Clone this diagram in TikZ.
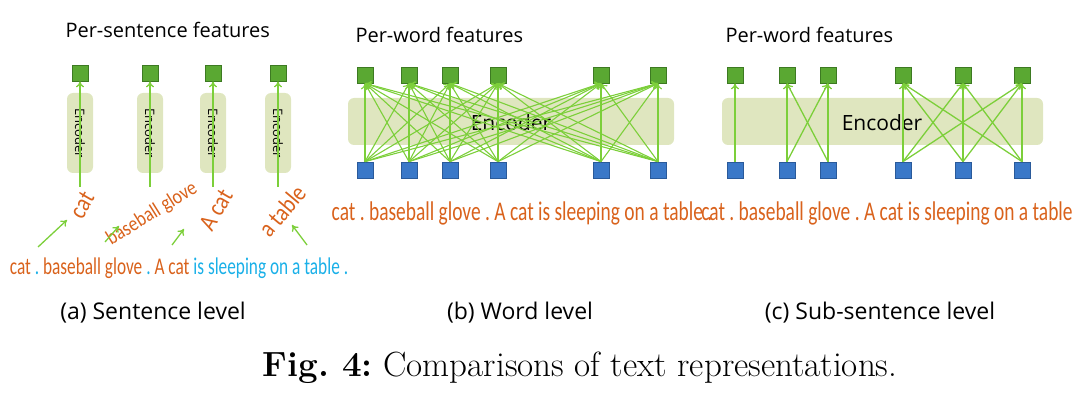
\documentclass[tikz,border=0pt]{standalone}
\usepackage{fontspec}
\setmainfont{Latin Modern Roman}
\newfontfamily\sans{Open Sans}
\newfontfamily\narrow{Carlito}
\usetikzlibrary{arrows.meta}
\definecolor{gsq}{HTML}{5AA832}\definecolor{gsqd}{HTML}{3D7A22}
\definecolor{bsq}{HTML}{3A78C8}\definecolor{bsqd}{HTML}{2A5A9A}
\definecolor{arr}{HTML}{7CCF3A}\definecolor{enc}{HTML}{DFE6BF}
\definecolor{org}{HTML}{D9621C}\definecolor{cya}{HTML}{1AB0E8}
\frenchspacing
\begin{document}
\begin{tikzpicture}[x=1pt,y=-1pt,
  gs/.style={draw=gsqd,fill=gsq,minimum size=16pt,inner sep=0pt,line width=0.8pt},
  bs/.style={draw=bsqd,fill=bsq,minimum size=16pt,inner sep=0pt,line width=0.8pt},
  ar/.style={draw=arr,line width=1.3pt,-{To[length=6pt,width=8pt]}},
  encb/.style={fill=enc,rounded corners=6pt,draw=none},
  ttl/.style={font=\sans\fontsize{20}{22}\selectfont,anchor=west},
  captxt/.style={font=\sans\fontsize{23}{25}\selectfont},
  sent/.style={font=\narrow\fontsize{27}{28}\selectfont,text=org,inner sep=0pt}]
\useasboundingbox (0,0) rectangle (1080,401);
% ---------- (a)
\node[ttl] (ta) at (62,30) {Per-sentence features};
\foreach \i/\x in {1/80,2/150,3/213,4/278}{
  \node[encb,minimum width=26pt,minimum height=80pt] (ea\i) at (\x,133) {};
  \node[rotate=-90,font=\sans\fontsize{13}{14}\selectfont] at (\x,133) {Encoder};
  \node[gs] (ga\i) at (\x,73) {};
  \coordinate (sa\i) at (\x,187);
  \draw[ar] (sa\i) -- (ga\i);
}
\node[sent,rotate=60,font=\narrow\fontsize{25}{26}\selectfont] (w1) at (82,205) {\scalebox{0.85}[1]{cat}};
\node[sent,rotate=32,font=\narrow\fontsize{21}{22}\selectfont] (w2) at (152,214) {\scalebox{0.85}[1]{baseball glove}};
\node[sent,rotate=60,font=\narrow\fontsize{25}{26}\selectfont] (w3) at (216,210) {\scalebox{0.85}[1]{A cat}};
\node[sent,rotate=50,font=\narrow\fontsize{25}{26}\selectfont] (w4) at (282,211) {\scalebox{0.85}[1]{a table}};
\coordinate (p1) at (38,247);\coordinate (q1) at (67,220);
\coordinate (p2) at (105,242);\coordinate (q2) at (119,226);
\coordinate (p3) at (172,245);\coordinate (q3) at (184,229);
\coordinate (p4) at (307,245);\coordinate (q4) at (292,225);
\foreach \i in {1,...,4}{\draw[ar] (p\i) -- (q\i);}
\node[sent,font=\narrow\fontsize{24}{25}\selectfont] (sa) at (179,268) {\scalebox{0.72}[1]{cat {\color{cya}.} baseball glove {\color{cya}.} A cat {\color{cya}is sleeping on a table .}}};
\node[captxt] (ca) at (153,313) {(a) Sentence level};
% ---------- (b)
\node[ttl] (tb) at (352,35) {Per-word features};
\node[encb,minimum width=326pt,minimum height=47pt] (eb) at (511,121.5) {};
\node[font=\sans\fontsize{21}{22}\selectfont] at (511,123) {Encoder};
\foreach \i/\x in {1/365,2/409,3/450,4/498,5/601,6/658}{
  \node[gs] (gb\i) at (\x,75) {};
  \node[bs] (bb\i) at (\x,170) {};
}
\foreach \i in {1,...,6}{\foreach \j in {1,...,6}{\draw[ar,line width=1.1pt] (bb\i.north) -- (gb\j.south);}}
\node[sent] (sb) at (522,213) {\scalebox{0.72}[1]{cat . baseball glove . A cat is sleeping on a table .}};
\node[captxt] (cb) at (520,313) {(b) Word level};
% ---------- (c)
\node[ttl] (tc) at (722,35) {Per-word features};
\node[encb,minimum width=321pt,minimum height=47pt] (ec) at (882.5,121.5) {};
\node[font=\sans\fontsize{21}{22}\selectfont] at (882,123) {Encoder};
\foreach \i/\x in {1/735,2/787,3/828,4/903,5/963,6/1022}{
  \node[gs] (gc\i) at (\x,75) {};
  \node[bs] (bc\i) at (\x,170) {};
}
\draw[ar] (bc1.north) -- (gc1.south);
\foreach \i in {2,3}{\foreach \j in {2,3}{\draw[ar] (bc\i.north) -- (gc\j.south);}}
\foreach \i in {4,5,6}{\foreach \j in {4,5,6}{\draw[ar] (bc\i.north) -- (gc\j.south);}}
\node[sent] (sc) at (887,213) {\scalebox{0.72}[1]{cat . baseball glove . A cat is sleeping on a table}};
\node[captxt] (cc) at (880,313) {(c) Sub-sentence level};
% ---------- caption
\node[font=\fontsize{35}{40}\selectfont] (fig) at (580,368) {\textbf{Fig. 4:} Comparisons of text representations.};
\end{tikzpicture}
\end{document}
